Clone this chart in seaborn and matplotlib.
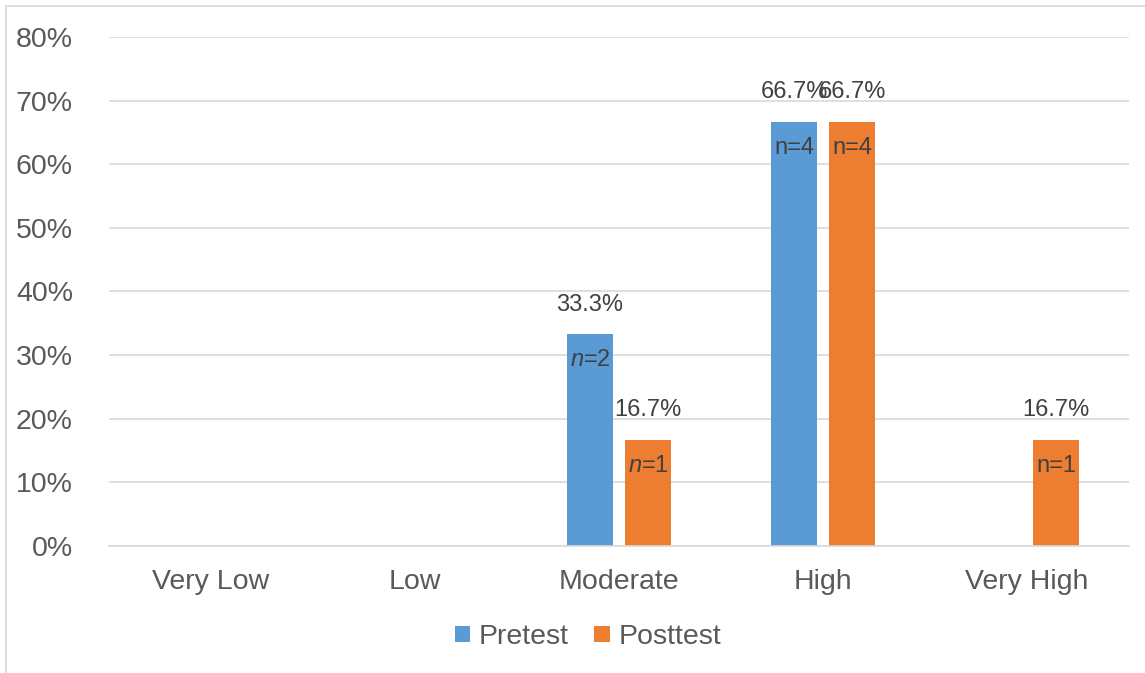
import matplotlib
matplotlib.use("Agg")
import matplotlib.pyplot as plt
import seaborn as sns
import pandas as pd
from matplotlib.patches import Rectangle

categories = ["Very Low", "Low", "Moderate", "High", "Very High"]
pretest = [0.0, 0.0, 33.3, 66.7, 0.0]
posttest = [0.0, 0.0, 16.7, 66.7, 16.7]
pretest_n = [None, None, 2, 4, None]
posttest_n = [None, None, 1, 4, 1]
# whether the "n" in each count label is set in italics
pretest_n_italic = [False, False, True, False, False]
posttest_n_italic = [False, False, True, False, False]

sns.set_theme(style="white")
plt.rcParams["font.family"] = ["Liberation Sans", "DejaVu Sans"]
plt.rcParams["mathtext.fontset"] = "custom"
plt.rcParams["mathtext.it"] = "Liberation Sans:italic"
plt.rcParams["mathtext.rm"] = "Liberation Sans"

BLUE = "#5B9BD5"
ORANGE = "#ED7D31"
TEXT = "#595959"
LABEL = "#404040"
GRID = "#D9D9D9"

df = pd.DataFrame({
    "Level": categories * 2,
    "Percent": [v / 100 for v in pretest] + [v / 100 for v in posttest],
    "Test": ["Pretest"] * len(categories) + ["Posttest"] * len(categories),
})

fig = plt.figure(figsize=(11.45, 6.73), dpi=100)
ax = fig.add_axes([0.0952, 0.189, 0.891, 0.756])

sns.barplot(data=df, x="Level", y="Percent", hue="Test", order=categories,
            hue_order=["Pretest", "Posttest"], palette=[BLUE, ORANGE],
            width=0.57, gap=0.21, saturation=1, errorbar=None, ax=ax,
            linewidth=0, legend=True)

ax.set_ylim(0, 0.8)
ax.set_xlim(-0.5, len(categories) - 0.5)
ax.set_yticks([i / 10 for i in range(9)])
ax.set_yticklabels([f"{i * 10}%" for i in range(9)])
ax.yaxis.grid(True, color=GRID, linewidth=1.2)
ax.set_axisbelow(True)
for s in ["top", "right", "left"]:
    ax.spines[s].set_visible(False)
ax.spines["bottom"].set_color(GRID)
ax.spines["bottom"].set_linewidth(1.2)
ax.tick_params(axis="both", length=0, labelsize=20.5, labelcolor=TEXT)
ax.tick_params(axis="y", pad=26)
ax.tick_params(axis="x", pad=17)
ax.set_xlabel("")
ax.set_ylabel("")

# value labels above each bar and counts just inside the bar top
series = [(pretest, pretest_n, pretest_n_italic), (posttest, posttest_n, posttest_n_italic)]
for container, (vals, counts, italic) in zip(ax.containers, series):
    for bar, v, n, it in zip(container, vals, counts, italic):
        if v <= 0:
            continue
        xc = bar.get_x() + bar.get_width() / 2
        top = bar.get_height()
        ax.annotate(f"{v:.1f}%", (xc, top), xytext=(0, 21), textcoords="offset points",
                    ha="center", va="center", fontsize=17, color=LABEL)
        label = f"$n$={n}" if it else f"n={n}"
        ax.annotate(label, (xc, top), xytext=(0, -19), textcoords="offset points",
                    ha="center", va="center", fontsize=17, color=LABEL)

leg = ax.legend(loc="center", bbox_to_anchor=(588 / 1145, 1 - 637 / 673),
                bbox_transform=fig.transFigure, ncol=2, frameon=False,
                fontsize=20.5, handlelength=0.53, handleheight=0.53,
                handletextpad=0.32, columnspacing=0.9)
for t in leg.get_texts():
    t.set_color(TEXT)

# outer chart frame
fig.patches.append(Rectangle((6 / 1145, -0.05), 1.1, 1 - 6 / 673 + 0.05,
                             transform=fig.transFigure, fill=False,
                             edgecolor=GRID, linewidth=1.2))

fig.savefig("out.png", dpi=100)
